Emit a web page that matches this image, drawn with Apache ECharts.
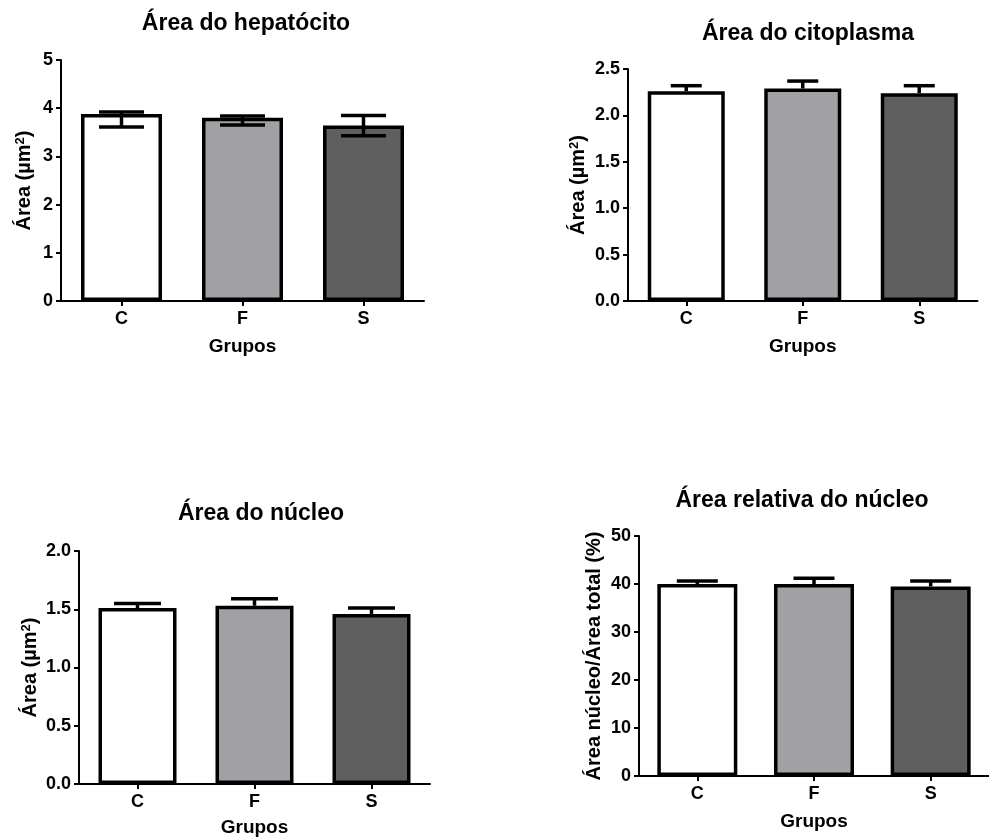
<!DOCTYPE html>
<html>
<head>
<meta charset="utf-8">
<title>Morfometria hepática</title>
<script src="https://cdn.jsdelivr.net/npm/echarts@6/dist/echarts.min.js"></script>
<style>
  html, body { margin: 0; padding: 0; background: #ffffff; }
  #chart { width: 989px; height: 838px; }
</style>
</head>
<body>
<div id="chart"></div>
<script>
// Grupos experimentais
const groups = ['C', 'F', 'S'];

// Área do hepatócito (µm²): média e limites da barra de erro
const hepatocitoMean = [3.88, 3.80, 3.64];
const hepatocitoLow  = [3.61, 3.65, 3.43];
const hepatocitoHigh = [3.92, 3.84, 3.85];

// Área do citoplasma (µm²)
const citoplasmaMean = [2.26, 2.29, 2.24];
const citoplasmaHigh = [2.32, 2.37, 2.32];

// Área do núcleo (µm²)
const nucleoMean = [1.51, 1.53, 1.46];
const nucleoHigh = [1.55, 1.59, 1.51];

// Área relativa do núcleo (%)
const relativaMean = [40.0, 40.0, 39.5];
const relativaHigh = [40.6, 41.2, 40.6];

// Marcas dos eixos Y: [mínimo, máximo, intervalo]
const ticksHepatocito = [0, 5, 1];
const ticksCitoplasma = [0, 2.5, 0.5];
const ticksNucleo = [0, 2.0, 0.5];
const ticksRelativa = [0, 50, 10];

const barColors = ['#ffffff', '#a1a1a5', '#5f5f5f'];
const FONT = '"Liberation Sans", Arial, sans-serif';
const INK = '#000000';

const areaName = 'Área (µm{sup|2})';

const panels = [
  { title: 'Área do hepatócito', tx: 241, ty: 7,
    grid: { left: 61, top: 60, width: 363, height: 241 },
    yName: areaName, yGap: 27, xGap: 36,
    ticks: ticksHepatocito, digits: 0,
    mean: hepatocitoMean, low: hepatocitoLow, high: hepatocitoHigh,
    barWidth: 81, capW: 45 },
  { title: 'Área do citoplasma', tx: 803, ty: 17,
    grid: { left: 628, top: 69, width: 349.5, height: 232 },
    yName: areaName, yGap: 40, xGap: 36,
    ticks: ticksCitoplasma, digits: 1,
    mean: citoplasmaMean, low: null, high: citoplasmaHigh,
    barWidth: 77, capW: 31 },
  { title: 'Área do núcleo', tx: 256, ty: 497,
    grid: { left: 79, top: 551, width: 351, height: 233 },
    yName: areaName, yGap: 39, xGap: 34,
    ticks: ticksNucleo, digits: 1,
    mean: nucleoMean, low: null, high: nucleoHigh,
    barWidth: 78, capW: 47 },
  { title: 'Área relativa do núcleo', tx: 797, ty: 484,
    grid: { left: 639, top: 536, width: 360, height: 240 },
    yName: 'Área núcleo/Área total (%)', yGap: 35, xGap: 36,
    ticks: ticksRelativa, digits: 0,
    mean: relativaMean, low: null, high: relativaHigh,
    barWidth: 80, capW: 41 }
];

const axisLineStyle = { color: INK, width: 2 };
const nameStyle = {
  fontFamily: FONT, fontWeight: 'bold', fontSize: 20, color: INK,
  rich: {
    sup: { fontFamily: FONT, fontWeight: 'bold', fontSize: 13, color: INK, verticalAlign: 'top', lineHeight: 20 }
  }
};

const option = {
  animation: false,
  backgroundColor: '#ffffff',
  title: panels.map(p => ({
    text: p.title, left: p.tx, top: p.ty, textAlign: 'center',
    textStyle: { fontFamily: FONT, fontWeight: 'bold', fontSize: 23, color: INK }
  })),
  grid: panels.map(p => Object.assign({ containLabel: false }, p.grid)),
  xAxis: panels.map((p, i) => ({
    type: 'category', gridIndex: i, data: groups,
    name: 'Grupos', nameLocation: 'middle', nameGap: p.xGap,
    nameTextStyle: { fontFamily: FONT, fontWeight: 'bold', fontSize: 19, color: INK },
    axisLine: { show: true, lineStyle: axisLineStyle },
    axisTick: { show: true, alignWithLabel: true, length: 5, lineStyle: axisLineStyle },
    axisLabel: { fontFamily: FONT, fontWeight: 'bold', fontSize: 18, color: INK, margin: 9 },
    splitLine: { show: false }
  })),
  yAxis: panels.map((p, i) => ({
    type: 'value', gridIndex: i,
    min: p.ticks[0], max: p.ticks[1], interval: p.ticks[2],
    name: p.yName, nameLocation: 'middle', nameGap: p.yGap, nameRotate: 90,
    nameTextStyle: nameStyle,
    axisLine: { show: true, lineStyle: axisLineStyle },
    axisTick: { show: true, length: 5, lineStyle: axisLineStyle },
    axisLabel: {
      fontFamily: FONT, fontWeight: 'bold', fontSize: 18, color: INK, margin: 8,
      formatter: v => v.toFixed(p.digits)
    },
    splitLine: { show: false }
  })),
  series: []
};

panels.forEach((p, i) => {
  // barras
  option.series.push({
    type: 'bar', xAxisIndex: i, yAxisIndex: i, barWidth: p.barWidth, z: 2,
    data: p.mean.map((v, k) => ({
      value: v,
      itemStyle: { color: barColors[k], borderColor: INK, borderWidth: 3.5 }
    }))
  });
  // barras de erro
  const low = p.low || p.mean;
  const hasLowCap = !!p.low;
  option.series.push({
    type: 'custom', xAxisIndex: i, yAxisIndex: i, z: 5,
    data: groups.map((g, k) => [k, low[k], p.high[k]]),
    renderItem: (params, api) => {
      const x = api.coord([api.value(0), 0])[0];
      const yl = api.coord([api.value(0), api.value(1)])[1];
      const yh = api.coord([api.value(0), api.value(2)])[1];
      const half = p.capW / 2;
      const style = { stroke: INK, lineWidth: 3.5 };
      const children = [
        { type: 'line', shape: { x1: x, y1: yl, x2: x, y2: yh }, style },
        { type: 'line', shape: { x1: x - half, y1: yh, x2: x + half, y2: yh }, style }
      ];
      if (hasLowCap) {
        children.push({ type: 'line', shape: { x1: x - half, y1: yl, x2: x + half, y2: yl }, style });
      }
      return { type: 'group', children };
    }
  });
});

const chart = echarts.init(document.getElementById('chart'), null, { renderer: 'canvas' });
chart.setOption(option);
</script>
</body>
</html>
